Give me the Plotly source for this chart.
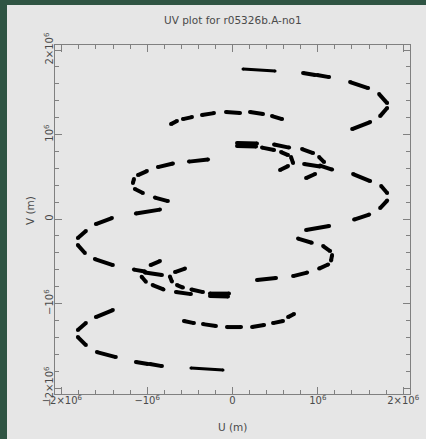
import plotly.graph_objects as go

# UV coverage, units of 10^6 m. Each track: consecutive pairs of points = one scan (dash)
dot_up_u = [0.123, 0.499]
dot_up_v = [1.775, 1.751]
dot_lo_u = [-0.487, -0.111]
dot_lo_v = [-1.763, -1.787]

t1_up_u = [0.827, 0.968, 0.991, 1.132, 1.378, 1.589, 1.718, 1.812, 1.812, 1.730, 1.613, 1.402]
t1_up_v = [1.728, 1.704, 1.704, 1.680, 1.621, 1.550, 1.479, 1.373, 1.314, 1.219, 1.148, 1.065]
t1_lo_u = [-1.132, -0.991, -0.968, -0.827, -1.589, -1.367, -1.812, -1.718, -1.812, -1.718, -1.601, -1.402]
t1_lo_v = [-1.692, -1.716, -1.716, -1.740, -1.574, -1.633, -1.396, -1.491, -1.314, -1.231, -1.160, -1.077]

t2_up_u = [-0.721, -0.651, -0.581, -0.475, -0.358, -0.217, -0.076, 0.088, 0.205, 0.358, 0.463, 0.581]
t2_up_v = [1.124, 1.160, 1.183, 1.207, 1.231, 1.254, 1.266, 1.254, 1.266, 1.243, 1.219, 1.183]
t2_lo_u = [0.721, 0.651, 0.592, 0.475, 0.370, 0.229, 0.100, -0.065, -0.194, -0.346, -0.452, -0.569]
t2_lo_v = [-1.124, -1.160, -1.207, -1.231, -1.254, -1.278, -1.278, -1.278, -1.266, -1.243, -1.231, -1.207]

t3_up_u = [-0.510, -0.287, -0.874, -0.698, -1.108, -1.003, -1.167, -1.155, -1.144, -1.050, -0.909, -0.757]
t3_up_v = [0.680, 0.704, 0.615, 0.657, 0.521, 0.568, 0.426, 0.473, 0.355, 0.308, 0.254, 0.213]
t3_lo_u = [0.287, 0.510, 0.710, 0.874, 1.015, 1.120, 1.155, 1.167, 1.144, 1.062, 0.929, 0.768]
t3_lo_v = [-0.722, -0.698, -0.675, -0.633, -0.586, -0.538, -0.491, -0.426, -0.379, -0.320, -0.280, -0.231]

t4_up_u = [1.167, 1.026, 1.026, 0.839, 1.613, 1.413, 1.812, 1.742, 1.730, 1.812, 1.425, 1.601, 0.862, 1.132]
t4_up_v = [0.586, 0.633, 0.621, 0.651, 0.450, 0.533, 0.308, 0.391, 0.130, 0.219, -0.006, 0.053, -0.130, -0.083]
t4_lo_u = [-0.850, -1.132, -1.413, -1.601, -1.718, -1.812, -1.812, -1.730, -1.613, -1.402, -1.155, -1.026, -1.026, -0.827]
t4_lo_v = [0.112, 0.065, 0.012, -0.059, -0.142, -0.225, -0.308, -0.402, -0.473, -0.544, -0.598, -0.621, -0.633, -0.663]

t5_up_u = [0.053, 0.287, 0.053, 0.276, 0.346, 0.487, 0.569, 0.651, 0.686, 0.710, 0.651, 0.557]
t5_up_v = [0.899, 0.893, 0.864, 0.858, 0.846, 0.817, 0.793, 0.757, 0.734, 0.663, 0.627, 0.580]
t5_lo_u = [-0.264, -0.041, -0.264, -0.053, -0.346, -0.481, -0.581, -0.651, -0.710, -0.733, -0.674, -0.557]
t5_lo_v = [-0.882, -0.882, -0.911, -0.917, -0.864, -0.834, -0.811, -0.781, -0.740, -0.680, -0.627, -0.586]

t6_up_u = [0.487, 0.663, 0.815, 0.944, 1.015, 1.073, 0.968, 0.862]
t6_up_v = [0.882, 0.846, 0.828, 0.781, 0.734, 0.675, 0.533, 0.485]
t6_lo_u = [-0.487, -0.663, -0.809, -0.936, -1.015, -1.065, -0.960, -0.850]
t6_lo_v = [-0.888, -0.864, -0.832, -0.781, -0.742, -0.683, -0.544, -0.497]

tick_vals = [-2, -1, 0, 1, 2]
x_tick_text = ["\u22122\u00d710<sup>6</sup>", "\u221210<sup>6</sup>", "0", "10<sup>6</sup>", "2\u00d710<sup>6</sup>"]
y_tick_text = ["\u22122\u00d710<sup>6</sup>", "\u221210<sup>6</sup>", "0", "10<sup>6</sup>", "2\u00d710<sup>6</sup>"]

tracks = [
    (t1_up_u, t1_up_v, 4), (t1_lo_u, t1_lo_v, 4),
    (t2_up_u, t2_up_v, 4), (t2_lo_u, t2_lo_v, 4),
    (t3_up_u, t3_up_v, 4), (t3_lo_u, t3_lo_v, 4),
    (t4_up_u, t4_up_v, 4), (t4_lo_u, t4_lo_v, 4),
    (t5_up_u, t5_up_v, 4), (t5_lo_u, t5_lo_v, 4),
    (t6_up_u, t6_up_v, 4), (t6_lo_u, t6_lo_v, 4),
    (dot_up_u, dot_up_v, 3), (dot_lo_u, dot_lo_v, 3),
]

fig = go.Figure()
for us, vs, w in tracks:
    xs, ys = [], []
    for i in range(0, len(us), 2):
        xs += [us[i], us[i + 1], None]
        ys += [vs[i], vs[i + 1], None]
    fig.add_trace(go.Scatter(x=xs, y=ys, mode="lines+markers",
                             line=dict(color="black", width=w),
                             marker=dict(color="black", size=w),
                             hoverinfo="skip", showlegend=False))

W, H = 426, 439
L, R, T, B = 55, 16, 45, 45
pw, ph = W - L - R, H - T - B

def px(x):
    return (x - L) / pw

def py(y):
    return (H - B - y) / ph

GREEN = "#2F5443"
BG = "#E6E6E6"
TXT = "#4A4A4A"
AX = "#808080"
FONT = "DejaVu Sans, Arial, sans-serif"

axis_common = dict(
    showgrid=False, zeroline=False, showline=True, linecolor=AX, linewidth=1,
    mirror="ticks", ticks="inside", ticklen=7, tickcolor=AX, tickwidth=1,
    tickvals=tick_vals, automargin=False, ticklabelstandoff=-3,
    minor=dict(dtick=0.2, ticks="inside", ticklen=4, tickcolor=AX, tickwidth=1),
    tickfont=dict(family=FONT, size=10, color=TXT),
)

ann_common = dict(xref="paper", yref="paper", showarrow=False, xanchor="center", yanchor="middle",
                  font=dict(family=FONT, size=10.5, color=TXT))

fig.update_layout(
    template="none",
    width=W, height=H, margin=dict(l=L, r=R, t=T, b=B, autoexpand=False),
    paper_bgcolor=BG, plot_bgcolor=BG,
    xaxis=dict(range=[-2.08, 2.08], ticktext=x_tick_text, **axis_common),
    yaxis=dict(range=[-2.07, 2.06], ticktext=y_tick_text, tickangle=-90, **axis_common),
    shapes=[
        dict(type="rect", xref="paper", yref="paper", x0=px(0), x1=px(7), y0=py(439), y1=py(0),
             fillcolor=GREEN, line_width=0, layer="above"),
        dict(type="rect", xref="paper", yref="paper", x0=px(0), x1=px(426), y0=py(5), y1=py(0),
             fillcolor=GREEN, line_width=0, layer="above"),
    ],
    annotations=[
        dict(text="UV plot for r05326b.A-no1", x=px(233), y=py(20), **ann_common),
        dict(text="U (m)", x=px(232), y=py(427), **ann_common),
        dict(text="V (m)", x=px(30), y=py(211), textangle=-90, **ann_common),
    ],
)

fig.write_html("out.html", config={"displayModeBar": False},
               post_script="document.body.style.margin='0';document.body.style.overflow='hidden';")
